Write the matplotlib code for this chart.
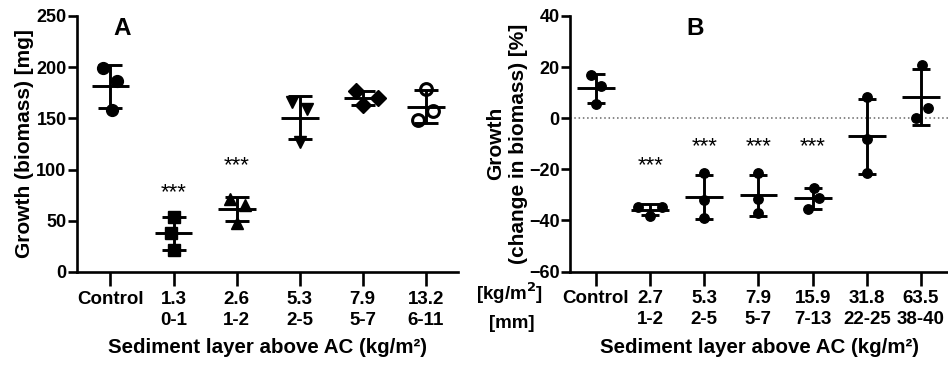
import matplotlib
matplotlib.use('Agg')
from matplotlib import pyplot as plt
import numpy as np

plt.rcParams['font.family'] = ['Liberation Sans', 'DejaVu Sans']
plt.rcParams['font.weight'] = 'bold'

# panel A: biomass [mg], three replicates per group
labels_a = ['Control', '1.3\n0-1', '2.6\n1-2', '5.3\n2-5', '7.9\n5-7', '13.2\n6-11']
control_a = [199, 187, 158]
g13_a = [54, 38, 21]
g26_a = [71, 65, 48]
g53_a = [166, 159, 127]
g79_a = [177, 170, 163]
g132_a = [179, 157, 148]
jitter_a = [[-0.11, 0.11, 0.03], [0, -0.04, 0], [-0.11, 0.14, 0.01],
            [-0.12, 0.12, 0], [-0.10, 0.24, 0], [0.01, 0.12, -0.12]]
stars_a = {1: 77, 2: 104}

# panel B: change in biomass [%]
labels_b = ['Control', '2.7\n1-2', '5.3\n2-5', '7.9\n5-7', '15.9\n7-13', '31.8\n22-25', '63.5\n38-40']
control_b = [16.8, 12.6, 5.5]
g27_b = [-34.6, -34.6, -38.2]
g53_b = [-21.5, -32.0, -38.9]
g79_b = [-21.5, -31.7, -37.2]
g159_b = [-27.4, -31.3, -35.5]
g318_b = [8.2, -8.2, -21.3]
g635_b = [20.8, 4.1, 0.2]
jitter_b = [[-0.1, 0.1, 0], [-0.22, 0.22, 0], [0, 0, 0], [0, 0, 0],
            [0.02, 0.12, -0.08], [0, 0, 0], [0.02, 0.13, -0.09]]
stars_b = {1: -18.5, 2: -11.1, 3: -11.1, 4: -11.1}

markers_a = [('o', 'k'), ('s', 'k'), ('^', 'k'), ('v', 'k'), ('D', 'k'), ('o', 'white')]


def style_axes(ax):
    for s in ['top', 'right']:
        ax.spines[s].set_visible(False)
    for s in ['left', 'bottom']:
        ax.spines[s].set_linewidth(1.9)
    ax.tick_params(axis='y', width=1.9, length=6.5, labelsize=13, pad=1)
    ax.tick_params(axis='x', width=1.9, length=10, labelsize=13.5, pad=3.5)
    for t in ax.get_xticklabels() + ax.get_yticklabels():
        t.set_fontweight('bold')


def scatter_sd(ax, groups, jitter, markers, ms, capsize, halfw):
    for i, vals in enumerate(groups):
        vals = np.array(vals, dtype=float)
        m, sd = vals.mean(), vals.std(ddof=1)
        mk, fc = markers[i]
        ax.plot(i + np.array(jitter[i]), vals, linestyle='none', marker=mk, ms=ms,
                mfc=fc, mec='k', mew=2.2 if fc == 'white' else 1, zorder=3)
        ax.errorbar(i, m, yerr=sd, color='k', elinewidth=2.1, capsize=capsize,
                    capthick=2.1, zorder=4)
        ax.hlines(m, i - halfw, i + halfw, color='k', lw=2.1, zorder=4)


fig = plt.figure(figsize=(9.48, 3.66), dpi=100)

# ---- A ----
axA = fig.add_axes([77 / 948, 94 / 366, 381 / 948, 256 / 366])
groups_a = [control_a, g13_a, g26_a, g53_a, g79_a, g132_a]
scatter_sd(axA, groups_a, jitter_a, markers_a, 8.5, 8.4, 0.30)
for i, y in stars_a.items():
    axA.text(i, y, '***', ha='center', va='center', fontsize=16, fontweight='normal')
axA.set_xlim(-0.53, 5.51)
axA.set_ylim(0, 250)
axA.set_yticks(range(0, 251, 50))
axA.set_xticks(range(len(labels_a)))
axA.set_xticklabels(labels_a, linespacing=1.3)
axA.set_ylabel('Growth (biomass) [mg]', fontsize=15, fontweight='bold', labelpad=2)
axA.set_xlabel('Sediment layer above AC (kg/m²)', fontsize=14.8, fontweight='bold', labelpad=7)
axA.text(0.118, 0.95, 'A', transform=axA.transAxes, fontsize=17.5, fontweight='bold',
         ha='center', va='center')
style_axes(axA)

# ---- B ----
axB = fig.add_axes([570 / 948, 94.5 / 366, 378 / 948, 255.5 / 366])
groups_b = [control_b, g27_b, g53_b, g79_b, g159_b, g318_b, g635_b]
markers_b = [('o', 'k')] * len(groups_b)
axB.axhline(0, color='0.4', lw=1.1, ls=(0, (1, 1.8)), zorder=1)
scatter_sd(axB, groups_b, jitter_b, markers_b, 6.8, 6.5, 0.35)
for i, y in stars_b.items():
    axB.text(i, y, '***', ha='center', va='center', fontsize=16, fontweight='normal')
axB.set_xlim(-0.48, 6.5)
axB.set_ylim(-60, 40)
axB.set_yticks(range(-60, 41, 20))
axB.set_xticks(range(len(labels_b)))
axB.set_xticklabels(labels_b, linespacing=1.3)
axB.set_ylabel('Growth\n(change in biomass) [%]', fontsize=15, fontweight='bold',
               labelpad=1, linespacing=1.25)
axB.set_xlabel('Sediment layer above AC (kg/m²)', fontsize=14.8, fontweight='bold', labelpad=7)
axB.text(0.33, 0.95, 'B', transform=axB.transAxes, fontsize=17.5, fontweight='bold',
         ha='center', va='center')
fig.text(510 / 948, 1 - 293 / 366, r'[kg/m$^{\mathbf{2}}$]', fontsize=13.5, fontweight='bold',
         ha='center', va='center')
fig.text(512 / 948, 1 - 324 / 366, '[mm]', fontsize=13.5, fontweight='bold',
         ha='center', va='center')
style_axes(axB)

fig.savefig('out.png', dpi=100)
